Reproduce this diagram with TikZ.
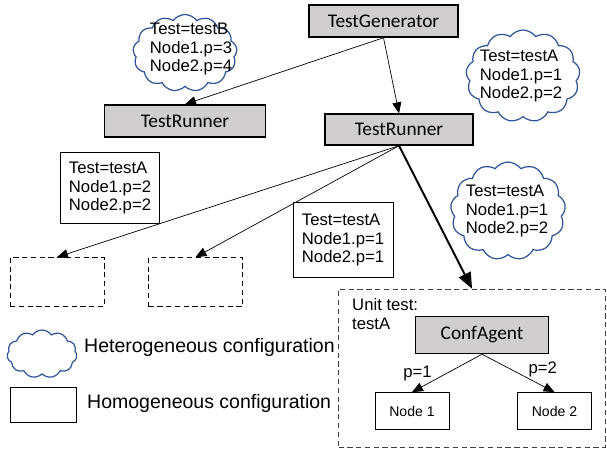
\documentclass[tikz,border=0pt]{standalone}
\usepackage{fontspec}
\setmainfont{Liberation Sans}
\newfontfamily\calib{Carlito}
\usetikzlibrary{arrows, shapes.symbols}
\definecolor{boxgray}{HTML}{D0CECE}
\definecolor{cloudblue}{HTML}{2F5597}

\begin{document}
\begin{tikzpicture}[x=0.02cm, y=-0.02cm]
   \tikzstyle{runner}=[rectangle,draw,thick,fill=boxgray,inner sep=0pt,font=\calib\fontsize{11}{13}\selectfont]
   \tikzstyle{hetero}=[cloud,cloud puffs=13,cloud puff arc=110,draw=cloudblue,line width=0.7pt,inner sep=0pt]
   \tikzstyle{cfgtext}=[align=left,inner sep=0pt,font=\fontsize{9.5}{10.8}\selectfont]
   \tikzstyle{homo}=[rectangle,draw,align=left,inner sep=0pt,font=\fontsize{9.5}{10.8}\selectfont]
   \tikzstyle{empty}=[rectangle,draw,dash pattern=on 3pt off 2pt,minimum width=1.88cm,minimum height=0.98cm]
   \tikzstyle{leaf}=[rectangle,draw,inner sep=0pt,minimum width=1.48cm,minimum height=0.74cm,font=\fontsize{8}{10}\selectfont]
   \tikzstyle{label}=[font=\fontsize{9.5}{10.8}\selectfont]
   \tikzstyle{legend}=[anchor=west,font=\fontsize{11.1}{13}\selectfont]
   \useasboundingbox (0,0) rectangle (607,450);

   \node[runner,minimum width=2.98cm,minimum height=0.64cm] (gen) at (383.5,21) {TestGenerator};
   \node[runner,minimum width=3.22cm,minimum height=0.64cm] (runL) at (185,121) {TestRunner};
   \node[runner,minimum width=2.96cm,minimum height=0.62cm] (runR) at (399,129.5) {TestRunner};

   % heterogeneous configurations
   \node[hetero,minimum width=2.08cm,minimum height=1.54cm] (cfgB) at (185,53) {};
   \node[cfgtext] (txtB) at (191,49) {Test=testB\\Node1.p=3\\Node2.p=4};
   \node[hetero,minimum width=2.28cm,minimum height=1.84cm] (cfgA) at (523,76) {};
   \node[cfgtext] (txtA) at (521,76) {Test=testA\\Node1.p=1\\Node2.p=2};
   \node[hetero,minimum width=2.3cm,minimum height=1.96cm] (cfgU) at (508,211) {};
   \node[cfgtext] (txtU) at (507,211) {Test=testA\\Node1.p=1\\Node2.p=2};

   % homogeneous configurations
   \node[homo,minimum width=1.98cm,minimum height=1.42cm] (cfg22) at (110,188) {Test=testA\\Node1.p=2\\Node2.p=2};
   \node[homo,minimum width=2.0cm,minimum height=1.5cm] (cfg11) at (343,240) {Test=testA\\Node1.p=1\\Node2.p=1};

   \node[empty] (e1) at (57,282) {};
   \node[empty] (e2) at (195.5,282) {};

   % unit test container
   \node[rectangle,draw=black!75,dash pattern=on 3pt off 2pt,minimum width=5.34cm,minimum height=3.16cm] (unit) at (472,368) {};
   \node[label,anchor=north west,align=left] (utxt) at (346,292) {Unit test:\\testA};
   \node[runner,minimum width=2.66cm,minimum height=0.74cm] (agent) at (482,335) {ConfAgent};
   \node[leaf] (n1) at (412,411) {Node 1};
   \node[leaf] (n2) at (554.5,411) {Node 2};

   % legend
   \node[hetero,cloud puffs=11,minimum width=1.4cm,minimum height=0.96cm] (lcloud) at (42,354) {};
   \node[legend] (ltxt1) at (78,347) {Heterogeneous configuration};
   \node[rectangle,draw,minimum width=1.32cm,minimum height=0.7cm] (lrect) at (43,404.5) {};
   \node[legend] (ltxt2) at (81,403) {Homogeneous configuration};

   \draw[-triangle 45] (gen.south) -- (runL.north);
   \draw[-triangle 45] (gen.south) -- (runR.north);
   \draw[-triangle 45] (runR.south) -- (e1.north);
   \draw[-triangle 45] (runR.south) -- (e2.north);
   \draw[-triangle 45,line width=1.1pt] (runR.south) -- (unit.north);
   \draw[-triangle 45] (agent.south) -- node[label,left=0.3cm,inner sep=0pt] {p=1} (n1.north);
   \draw[-triangle 45] (agent.south) -- node[label,right=0.2cm,yshift=0.08cm,inner sep=0pt] {p=2} (n2.north);
\end{tikzpicture}
\end{document}
